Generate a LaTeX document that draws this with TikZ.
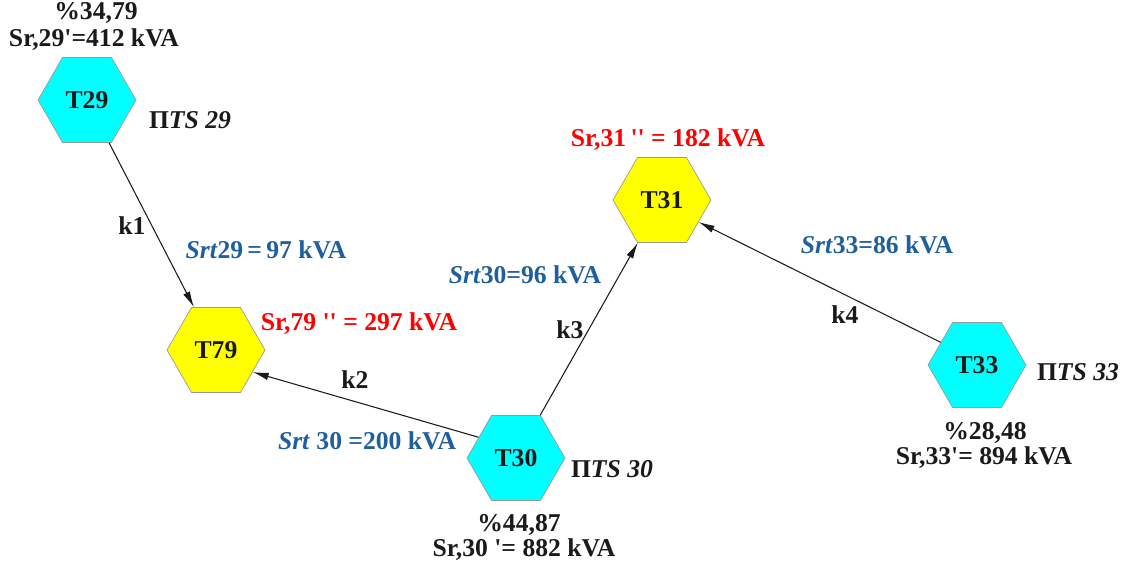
\documentclass[tikz,border=0pt]{standalone}
\usepackage{fontspec}
\setmainfont{Liberation Serif}
\usetikzlibrary{shapes.geometric,arrows.meta}
\definecolor{hexcyan}{HTML}{00FFFF}
\definecolor{hexyellow}{HTML}{FFFF00}
\definecolor{hexedge}{HTML}{9A9A9A}
\definecolor{inkdark}{HTML}{1A1A1A}
\definecolor{loadred}{HTML}{FF0000}
\definecolor{flowblue}{HTML}{1F5F9E}
\tikzset{
  hexnode/.style={regular polygon, regular polygon sides=6, minimum size=1.96cm,
    inner sep=0pt, draw=hexedge, line width=0.4pt, text=inkdark,
    font=\fontsize{14.6}{16}\selectfont\bfseries},
  source/.style={hexnode, fill=hexcyan},
  sink/.style={hexnode, fill=hexyellow},
  lbl/.style={inner sep=0pt, text=inkdark, font=\fontsize{14.6}{16}\selectfont\bfseries},
  redlbl/.style={lbl, text=loadred},
  bluelbl/.style={lbl, text=flowblue},
  feeder/.style={draw=inkdark, line width=0.6pt, -{Latex[length=3.2mm,width=1.5mm]}}
}
\newcommand{\srtname}{\textit{Srt}}
\newcommand{\dprime}{\textquotesingle\textquotesingle}
\begin{document}
\begin{tikzpicture}[x=0.02cm, y=-0.02cm]
  \useasboundingbox (0,0) rectangle (1129,574);

  % substations
  \node[source] (T29) at (87,100)  {T29};
  \node[sink]   (T79) at (216,350) {T79};
  \node[source] (T30) at (516,458) {T30};
  \node[sink]   (T31) at (662,200) {T31};
  \node[source] (T33) at (977,365) {T33};

  % feeders
  \draw[feeder] (T29) -- (T79);
  \draw[feeder] (T30.151) -- (T79.-31);
  \draw[feeder] (T30) -- (T31);
  \draw[feeder] (T33.148) -- (T31.-31);

  % feeder names
  \node[lbl] (k1) at (132,226) {k1};
  \node[lbl] (k2) at (355,380) {k2};
  \node[lbl] (k3) at (570,330) {k3};
  \node[lbl] (k4) at (845,315) {k4};

  % T29 data
  \node[lbl] (p29) at (96,13) {\%34,79};
  \node[lbl] (s29) at (94,40) {Sr,29\textquotesingle=412 kVA};
  \node[lbl] (n29) at (190,120) {Π\textit{TS 29}};

  % T79 data
  \node[redlbl] (s79) at (359,324) {Sr,79 \dprime\ = 297 kVA};
  \node[bluelbl] (f29) at (266,250) {\srtname29\,=\,97 kVA};

  % T30 data
  \node[lbl] (n30) at (612,469) {Π\textit{TS 30}};
  \node[lbl] (p30) at (519,525) {\%44,87};
  \node[lbl] (s30) at (524,550) {Sr,30 \textquotesingle= 882 kVA};
  \node[bluelbl] (f30a) at (367,441) {\srtname\ 30 =200 kVA};
  \node[bluelbl] (f30b) at (525,275) {\srtname30=96 kVA};

  % T31 data
  \node[redlbl] (s31) at (668,140) {Sr,31\,\dprime\ = 182 kVA};

  % T33 data
  \node[bluelbl] (f33) at (877,245) {\srtname33=86 kVA};
  \node[lbl] (n33) at (1078,372) {Π\textit{TS 33}};
  \node[lbl] (p33) at (985,433) {\%28,48};
  \node[lbl] (s33) at (984,458) {Sr,33\textquotesingle= 894 kVA};
\end{tikzpicture}
\end{document}
